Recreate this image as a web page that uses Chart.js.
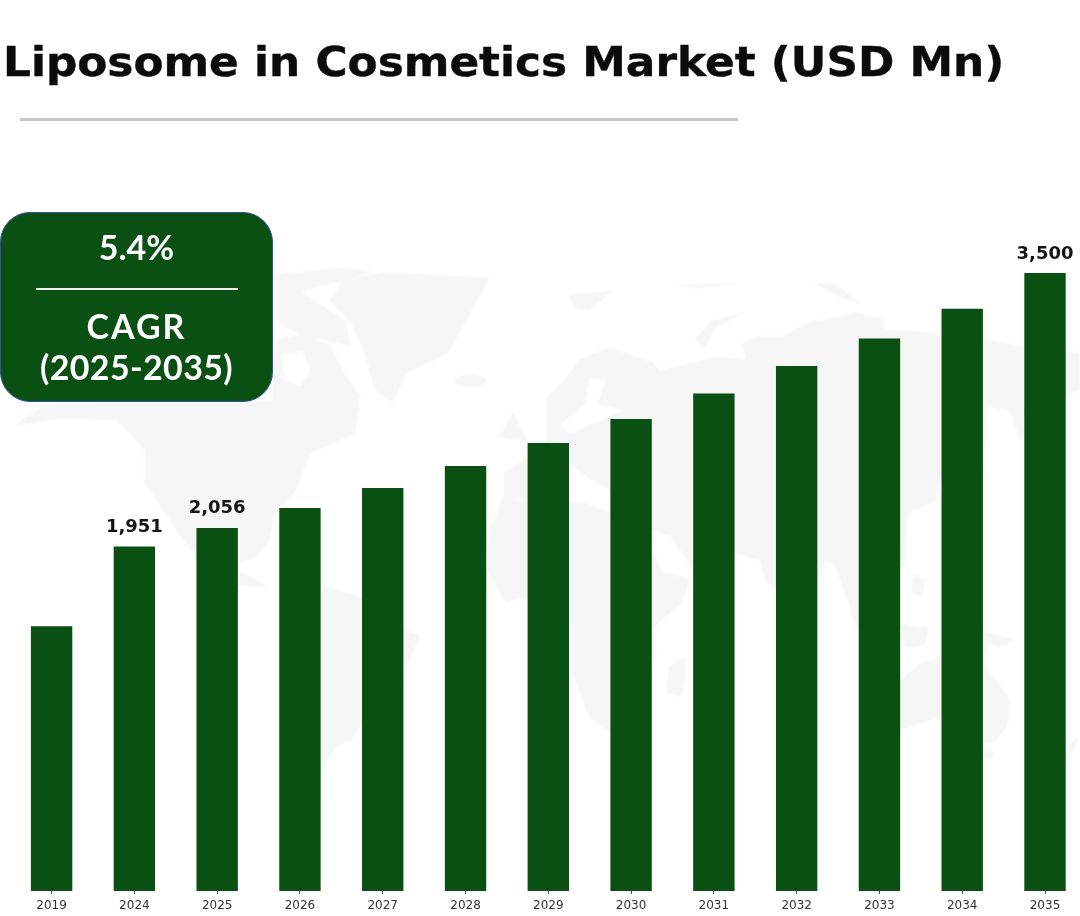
<!DOCTYPE html>
<html>
<head>
<meta charset="utf-8">
<script src="https://cdn.jsdelivr.net/npm/chart.js@4"></script>
<style>
html,body{margin:0;padding:0;background:#fff;width:1080px;height:916px;overflow:hidden;}
#wrap{position:relative;width:1080px;height:916px;overflow:hidden;}
#map{position:absolute;left:0;top:0;filter:blur(0.8px);}
#map *{fill:#f6f6f6;stroke:#f6f6f6;stroke-width:1;stroke-linejoin:round;}
#map .w{fill:#fff;stroke:#fff;}
#c{position:absolute;left:0;top:0;width:1100px;height:916px;filter:blur(0.35px);}
#title{position:absolute;left:3px;top:33px;font:bold 41px "DejaVu Sans";color:#0b0b0b;white-space:nowrap;line-height:58px;transform:scaleX(1.068);transform-origin:0 50%;filter:blur(0.4px);-webkit-text-stroke:0.4px #0b0b0b;}
#rule{position:absolute;left:20px;top:118px;width:718px;height:3px;background:#c9c9c9;}
#box{position:absolute;left:0;top:212px;width:271px;height:188px;background:#0a5012;border:1.5px solid #2f5597;border-radius:30px;color:#fff;font-family:Lato;font-weight:700;text-align:center;}
#box div{position:absolute;left:0;width:100%;line-height:40px;font-size:34px;filter:blur(0.3px);}
#box .ln{left:35px;width:202px;top:75px;height:2px;background:#f0f0f0;}
</style>
</head>
<body>
<div id="wrap">
<svg id="map" width="1080" height="916" viewBox="0 0 1080 916">
<polygon points="16,425 45,405 110,402 272,402 275,340 300,335 330,345 345,375 360,395 355,433 310,453 296,490 275,513 268,543 255,557 240,562 237,570 268,587 240,585 205,565 186,543 145,483 145,450 117,420 60,418"/>
<polygon class="w" points="282,355 303,352 310,372 300,385 285,380"/>
<polygon points="275,275 340,268 372,272 300,292 345,320 350,345 300,335 275,320"/>
<polygon points="386,273 489,278 468,317 448,353 406,373 393,402 375,390 365,353 351,323 330,300 344,280"/>
<ellipse cx="470" cy="381" rx="16" ry="6"/>
<polygon points="513,413 527,440 499,437"/>
<polygon points="293,587 320,583 344,593 362,598 403,627 420,637 406,667 400,693 362,723 351,740 336,747 327,760 320,777 320,807 310,810 303,727 293,660 278,630"/>
<polygon points="547,397 571,373 578,360 609,348 654,363 660,372 674,367 719,357 747,360 743,343 760,337 781,337 809,323 857,313 884,320 884,330 933,333 984,340 1022,347 1080,353 1080,390 1025,410 1035,430 1020,440 1010,410 988,407 984,467 962,470 939,477 936,500 908,513 905,540 905,565 880,575 865,600 857,632 848,600 835,565 825,560 800,625 776,588 767,583 760,560 735,553 720,575 690,565 670,535 650,530 610,505 568,520 540,500 504,497 504,473 530,455 547,440"/>
<polygon class="w" points="590,378 605,380 597,405 623,410 600,420 570,433 560,425 585,405"/>
<polygon class="w" points="568,463 590,480 610,490 608,517 590,515 568,500 560,485"/>
<polygon points="503,497 530,503 586,503 650,530 667,573 690,580 681,603 654,627 655,657 651,670 640,720 610,732 590,718 571,670 571,625 555,590 506,602 487,570 489,533"/>
<polygon class="w" points="650,543 658,545 668,565 664,575"/>
<polygon points="669,667 685,657 686,677 680,697 667,693"/>
<polygon points="880,700 900,680 922,663 939,658 982,632 988,643 984,663 1010,700 1008,723 995,742 982,742 939,717 900,730 880,735"/>
<circle cx="989" cy="755" r="4"/>
<polygon points="1079,737 1067,762 1070,745"/>
<polygon points="901,625 928,628 925,645 905,648"/>
<polygon points="912,575 925,578 922,597 912,592"/>
<polygon points="984,632 1015,640 1000,647 986,642"/>
<polygon points="568,295 612,291 590,310 575,308"/>
<polygon points="695,340 710,322 743,313 715,328 705,347"/>
<polygon points="815,283 835,284 860,303 838,296"/>
<polygon points="678,286 733,283 700,288"/>
</svg>
<canvas id="c" width="1100" height="916"></canvas>
<div id="title">Liposome in Cosmetics Market (USD Mn)</div>
<div id="rule"></div>
<div id="box">
  <div style="top:14px;">5.4%</div>
  <div class="ln"></div>
  <div style="top:93px;letter-spacing:2px;">CAGR</div>
  <div style="top:134px;letter-spacing:0.35px;">(2025-2035)</div>
</div>
</div>
<script>
const categories = ['2019','2024','2025','2026','2027','2028','2029','2030','2031','2032','2033','2034','2035'];
const marketValues = [1500,1951,2056,2169,2282,2407,2537,2673,2817,2973,3129,3298,3500];
const labelledYears = ['2024','2025','2035'];
const barColor = '#0a5012';

const valueLabels = {
  id:'valueLabels',
  afterDatasetsDraw(chart){
    const ctx = chart.ctx, meta = chart.getDatasetMeta(0);
    ctx.save();
    ctx.font = 'bold 18px "DejaVu Sans"';
    ctx.fillStyle = '#141414';
    ctx.textAlign = 'center';
    ctx.textBaseline = 'alphabetic';
    meta.data.forEach((bar,i)=>{
      if(labelledYears.includes(categories[i])){
        ctx.fillText(marketValues[i].toLocaleString('en-US'), bar.x, bar.y-14.5);
      }
    });
    ctx.restore();
  }
};

new Chart(document.getElementById('c').getContext('2d'),{
  type:'bar',
  data:{labels:categories,datasets:[{data:marketValues,backgroundColor:barColor,borderWidth:0,barPercentage:0.5,categoryPercentage:1}]},
  plugins:[valueLabels],
  options:{
    responsive:false,
    animation:false,
    layout:{padding:{top:273,left:10.2,right:13.6,bottom:0}},
    plugins:{legend:{display:false},tooltip:{enabled:false},title:{display:false}},
    scales:{
      y:{display:false,min:0,max:3500},
      x:{
        afterFit(s){s.height=25;},
        grid:{display:true,offset:false,drawOnChartArea:false,drawTicks:true,tickLength:3,color:'#555',tickColor:'#555'},
        border:{display:false},
        ticks:{color:'#333',font:{family:'DejaVu Sans',size:12},padding:5,maxRotation:0,autoSkip:false}
      }
    }
  }
});
</script>
</body>
</html>
